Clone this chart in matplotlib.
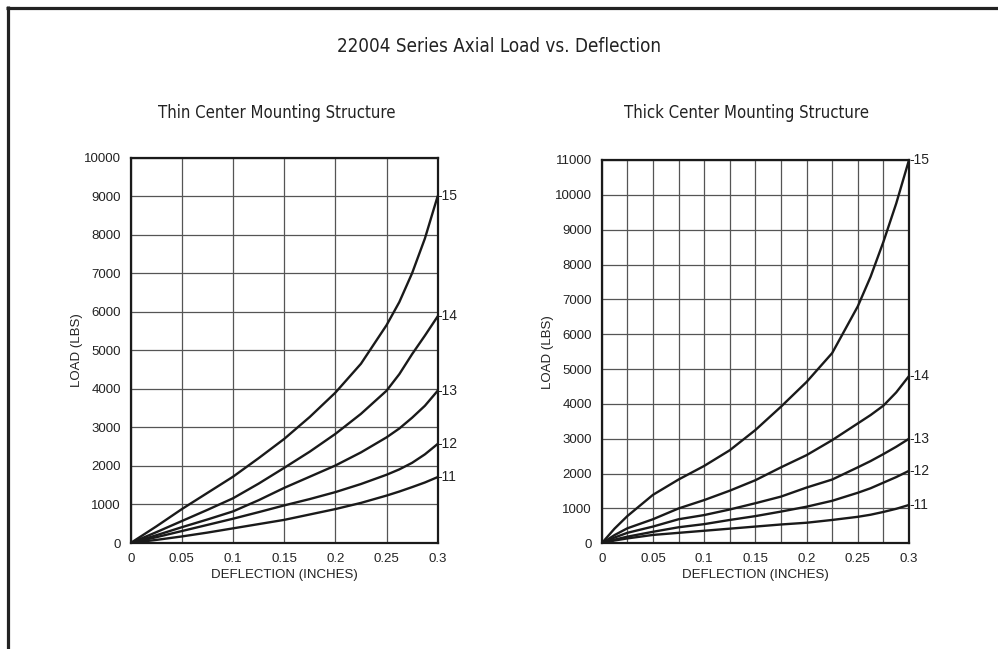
import matplotlib
matplotlib.use("Agg")
import matplotlib.pyplot as plt
from matplotlib.lines import Line2D

# ---------------- data ----------------
defl = [0, 0.0125, 0.025, 0.05, 0.075, 0.1, 0.125, 0.15, 0.175, 0.2, 0.225, 0.25, 0.2625, 0.275, 0.2875, 0.3]
series_names = ["-11", "-12", "-13", "-14", "-15"]

thin_11 = [0, 40, 80, 170, 270, 380, 490, 600, 740, 880, 1040, 1230, 1335, 1450, 1570, 1710]
thin_12 = [0, 75, 150, 310, 470, 630, 800, 975, 1140, 1320, 1530, 1770, 1910, 2080, 2300, 2570]
thin_13 = [0, 100, 200, 410, 610, 820, 1110, 1430, 1720, 2010, 2350, 2740, 2970, 3250, 3560, 3950]
thin_14 = [0, 140, 280, 570, 860, 1160, 1540, 1950, 2370, 2830, 3350, 3950, 4380, 4900, 5380, 5880]
thin_15 = [0, 215, 430, 880, 1300, 1720, 2200, 2700, 3270, 3900, 4650, 5650, 6250, 7000, 7900, 9000]

thick_11 = [0, 80, 140, 240, 300, 360, 420, 480, 540, 590, 670, 760, 820, 900, 990, 1100]
thick_12 = [0, 105, 190, 330, 460, 550, 670, 780, 910, 1050, 1220, 1450, 1580, 1740, 1900, 2080]
thick_13 = [0, 165, 300, 480, 690, 810, 970, 1150, 1340, 1600, 1830, 2180, 2360, 2560, 2770, 3000]
thick_14 = [0, 235, 430, 690, 1000, 1240, 1510, 1810, 2180, 2530, 2960, 3440, 3680, 3950, 4330, 4800]
thick_15 = [0, 420, 780, 1390, 1830, 2220, 2670, 3250, 3920, 4630, 5460, 6800, 7650, 8650, 9750, 11000]

x_ticks = [0, 0.05, 0.1, 0.15, 0.2, 0.25, 0.3]
x_tick_labels = ["0", "0.05", "0.1", "0.15", "0.2", "0.25", "0.3"]
thin_y_ticks = list(range(0, 10001, 1000))
thick_y_ticks = list(range(0, 11001, 1000))

title = "22004 Series Axial Load vs. Deflection"
sub_thin = "Thin Center Mounting Structure"
sub_thick = "Thick Center Mounting Structure"
xlabel = "DEFLECTION (INCHES)"
ylabel = "LOAD (LBS)"

# ---------------- figure ----------------
W, H = 998, 649
fig = plt.figure(figsize=(W / 100, H / 100), dpi=100)
fig.patch.set_facecolor("white")

tick_font = ["Liberation Sans", "DejaVu Sans"]
head_font = ["DejaVu Sans"]

# frame lines (top and left)
fig.add_artist(Line2D([6 / W, 1.0], [1 - 7.5 / H, 1 - 7.5 / H], transform=fig.transFigure,
                      color="#222222", lw=2.3, solid_capstyle="butt"))
fig.add_artist(Line2D([7.5 / W, 7.5 / W], [0, 1 - 6 / H], transform=fig.transFigure,
                      color="#222222", lw=2.3, solid_capstyle="butt"))

fig.text(499 / W, 1 - 47 / H, title, ha="center", va="center", fontsize=13.5,
         family=head_font, fontstretch="condensed", color="#222222")
fig.text(277 / W, 1 - 113 / H, sub_thin, ha="center", va="center", fontsize=12,
         family=head_font, fontstretch="condensed", color="#222222")
fig.text(747 / W, 1 - 113 / H, sub_thick, ha="center", va="center", fontsize=12,
         family=head_font, fontstretch="condensed", color="#222222")


def make_axes(rect, ymax, yticks, series, xminor):
    ax = fig.add_axes(rect)
    for ys in series:
        ax.plot(defl, ys, color="#1a1a1a", lw=1.7, solid_capstyle="round",
                solid_joinstyle="round", zorder=3)
    ax.set_xlim(0, 0.3)
    ax.set_ylim(0, ymax)
    ax.set_xticks(x_ticks)
    ax.set_xticklabels(x_tick_labels)
    ax.set_yticks(yticks)
    ax.set_yticklabels([str(v) for v in yticks])
    if xminor:
        ax.set_xticks([0.025 + 0.05 * i for i in range(6)], minor=True)
        ax.grid(True, which="minor", axis="x", color="#555555", lw=0.9)
    ax.grid(True, which="major", color="#555555", lw=0.9)
    ax.set_axisbelow(True)
    ax.tick_params(which="both", length=0, pad=7, labelsize=9.5, labelcolor="#222222")
    for lab in ax.get_xticklabels() + ax.get_yticklabels():
        lab.set_family(tick_font)
    for s in ax.spines.values():
        s.set_linewidth(1.6)
        s.set_color("#1a1a1a")
    ax.set_xlabel(xlabel, fontsize=9.5, family=tick_font, color="#222222", labelpad=3)
    ax.set_ylabel(ylabel, fontsize=9.5, family=tick_font, color="#222222", labelpad=1)
    for name, ys in zip(series_names, series):
        ax.text(0.3, ys[-1], name, transform=ax.transData, ha="left", va="center",
                fontsize=10, family=tick_font, color="#222222", clip_on=False)
    return ax


make_axes([130.7 / W, 1 - 543 / H, 307 / W, (543 - 157.5) / H], 10000, thin_y_ticks,
          [thin_11, thin_12, thin_13, thin_14, thin_15], False)
make_axes([601.7 / W, 1 - 543.3 / H, 307.3 / W, (543.3 - 160) / H], 11000, thick_y_ticks,
          [thick_11, thick_12, thick_13, thick_14, thick_15], True)

fig.savefig("out.png", dpi=100, facecolor="white")
